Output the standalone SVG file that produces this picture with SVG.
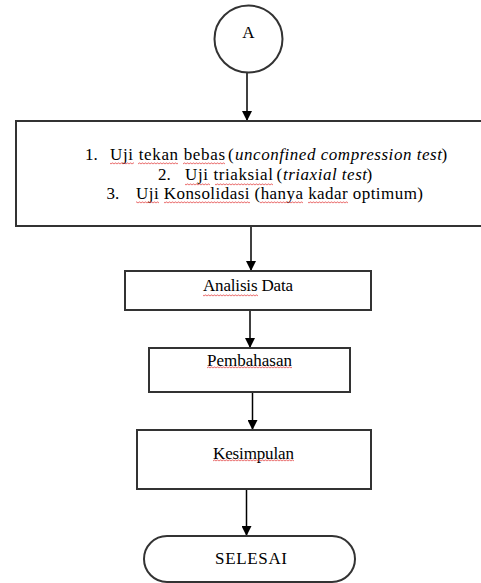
<svg xmlns="http://www.w3.org/2000/svg" width="481" height="583" viewBox="0 0 481 583" font-family="Liberation Serif, Tinos, Times New Roman, DejaVu Serif, serif">
<defs>
<marker id="ah" viewBox="0 0 10 10" refX="10" refY="5" markerWidth="10" markerHeight="10" markerUnits="userSpaceOnUse" orient="auto">
<path d="M0,0 L10,5 L0,10 Z" fill="#000"/>
</marker>
<pattern id="wave" x="0" y="0" width="3" height="3" patternUnits="userSpaceOnUse">
<path d="M0,2.3 L1.5,0.7 L3,2.3" fill="none" stroke="#e03030" stroke-width="0.8"/>
</pattern>
</defs>
<style>
.box{fill:#fff;stroke:#333;stroke-width:2}
.t{font-size:17px;fill:#000}
.i{font-style:italic}
.c{stroke:#000;stroke-width:1.5;fill:none}
.sq{fill:url(#wave)}
</style>
<rect width="481" height="583" fill="#fff"/>
<g id="connectors">
<line class="c" x1="247" y1="73" x2="247" y2="121" marker-end="url(#ah)"/>
<line class="c" x1="251" y1="226" x2="251" y2="271" marker-end="url(#ah)"/>
<line class="c" x1="250" y1="310" x2="250" y2="348" marker-end="url(#ah)"/>
<line class="c" x1="252.5" y1="392" x2="252.5" y2="430" marker-end="url(#ah)"/>
<line class="c" x1="246.5" y1="489" x2="246.5" y2="536" marker-end="url(#ah)"/>
</g>
<g id="nodeA">
<ellipse class="box" cx="248.5" cy="39" rx="34" ry="33.5" stroke-width="1.5"/>
<text class="t" x="248.5" y="38" text-anchor="middle">A</text>
</g>
<g id="nodeUji">
<rect class="box" x="16" y="121" width="470" height="105"/>
<text class="t" x="85" y="160">1.</text>
<text class="t" x="110" y="160" textLength="115">Uji tekan bebas</text>
<text class="t" x="228" y="160">(</text>
<text class="t i" x="235" y="160" textLength="207">unconfined compression test</text>
<text class="t" x="441.5" y="160">)</text>
<text class="t" x="158" y="180">2.</text>
<text class="t" x="185" y="180" textLength="88">Uji triaksial</text>
<text class="t" x="276.5" y="180">(</text>
<text class="t i" x="283" y="180" textLength="84">triaxial test</text>
<text class="t" x="366.5" y="180">)</text>
<text class="t" x="106.5" y="199">3.</text>
<text class="t" x="136" y="199" textLength="287">Uji Konsolidasi (hanya kadar optimum)</text>
</g>
<g id="nodeAnalisis">
<rect class="box" x="125" y="271" width="246" height="39"/>
<text class="t" x="203" y="291" textLength="90">Analisis Data</text>
</g>
<g id="nodePembahasan">
<rect class="box" x="149" y="348" width="201" height="44"/>
<text class="t" x="207" y="365.5" textLength="85">Pembahasan</text>
</g>
<g id="nodeKesimpulan">
<rect class="box" x="137" y="430" width="234" height="59"/>
<text class="t" x="213" y="458.5" textLength="81">Kesimpulan</text>
</g>
<g id="nodeSelesai">
<rect class="box" x="144" y="536" width="211" height="46" rx="23" ry="23" stroke-width="1.5"/>
<text class="t" x="215" y="564" textLength="72">SELESAI</text>
</g>
<g id="spellcheck">
<rect class="sq" x="110" y="162" width="24" height="3"/>
<rect class="sq" x="138" y="162" width="40" height="3"/>
<rect class="sq" x="183" y="162" width="42" height="3"/>
<rect class="sq" x="185" y="183" width="25" height="3"/>
<rect class="sq" x="215" y="183" width="58" height="3"/>
<rect class="sq" x="136" y="201" width="23" height="3"/>
<rect class="sq" x="164" y="201" width="86" height="3"/>
<rect class="sq" x="260" y="201" width="43" height="3"/>
<rect class="sq" x="308" y="201" width="40" height="3"/>
<rect class="sq" x="203" y="294" width="55" height="3"/>
<rect class="sq" x="207" y="366" width="85" height="3"/>
<rect class="sq" x="213" y="459" width="81" height="3"/>
</g>
</svg>
